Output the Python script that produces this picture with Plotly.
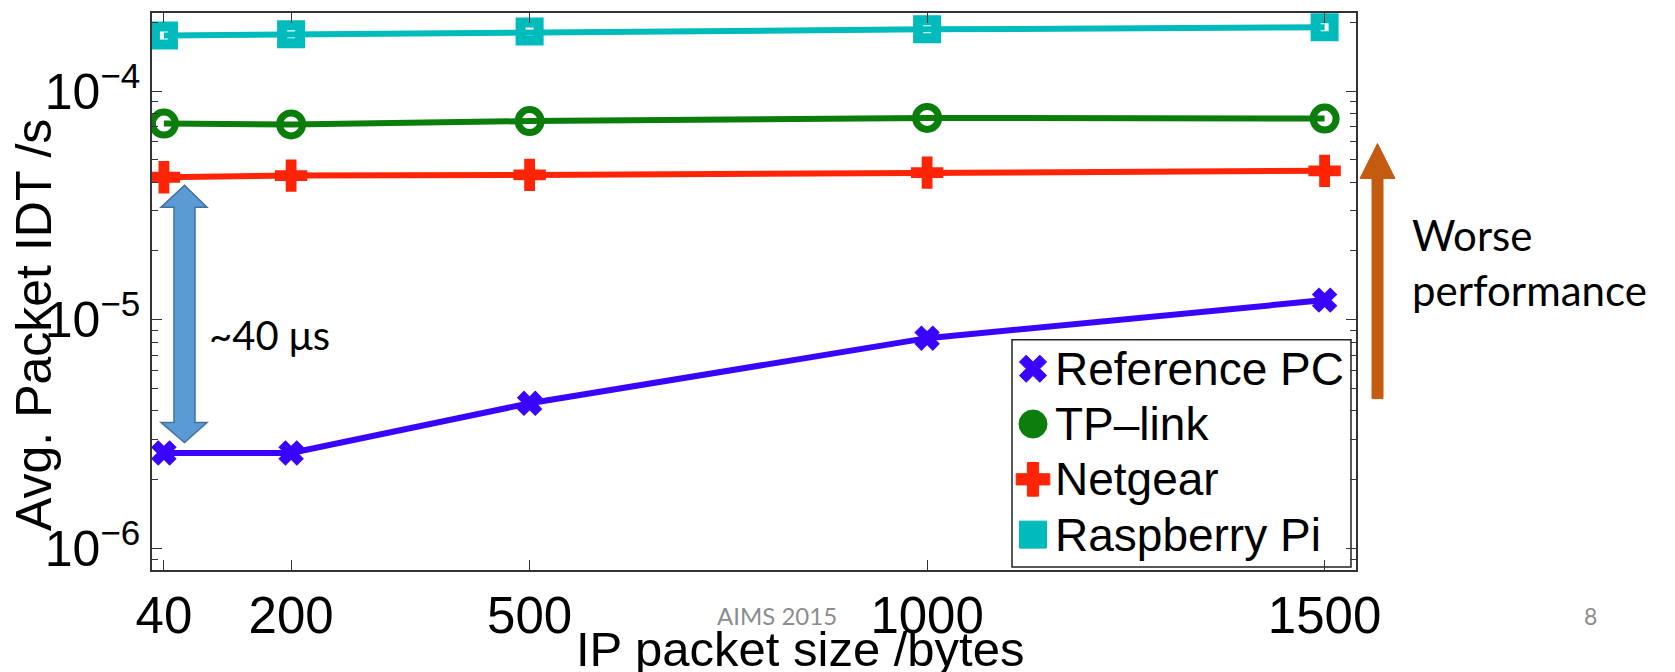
import plotly.graph_objects as go

# ---------------- data ----------------
packet_sizes = [40, 200, 500, 1000, 1500]
reference_pc = [2.62e-6, 2.62e-6, 4.32e-6, 8.32e-6, 1.22e-5]
tp_link = [7.21e-5, 7.15e-5, 7.39e-5, 7.63e-5, 7.58e-5]
netgear = [4.20e-5, 4.27e-5, 4.30e-5, 4.40e-5, 4.48e-5]
raspberry_pi = [1.75e-4, 1.77e-4, 1.82e-4, 1.86e-4, 1.90e-4]

series_names = ["Reference PC", "TP\u2013link", "Netgear", "Raspberry Pi"]
x_tick_vals = [40, 200, 500, 1000, 1500]
y_tick_vals = [1e-6, 1e-5, 1e-4]
y_tick_text = ["10<sup>\u22126</sup>", "10<sup>\u22125</sup>", "10<sup>\u22124</sup>"]

# ---------------- layout geometry (pixels) ----------------
W, H = 1675, 672
ML, MR, MT, MB = 152, 319, 11, 102
PW, PH = W - ML - MR, H - MT - MB
FONT = "Liberation Sans, Arial, Helvetica, sans-serif"
SLIDE_FONT = "Lato, Open Sans, sans-serif"


def px(x):
    return (x - ML) / PW


def py(y):
    return (H - MB - y) / PH


fig = go.Figure()

styles = [
    dict(color="#3A05FF", symbol="x", size=20, lw=2, leg="x", legsize=24),
    dict(color="#0A7D0A", symbol="circle-open", size=23, lw=7, leg="circle", legsize=28),
    dict(color="#FF2405", symbol="cross", size=27, lw=0, leg="cross", legsize=28),
    dict(color="#00BBBB", symbol="square-open", size=18, lw=10, leg="square", legsize=27),
]
data_series = [reference_pc, tp_link, netgear, raspberry_pi]

for name, ys, st in zip(series_names, data_series, styles):
    fig.add_trace(go.Scatter(
        x=packet_sizes, y=ys, mode="lines+markers", name=name, showlegend=False,
        line=dict(color=st["color"], width=6),
        marker=dict(symbol=st["symbol"], size=st["size"], color=st["color"],
                    line=dict(color=st["color"], width=st["lw"])),
    ))

# ---------------- hand-built legend (MATLAB style) ----------------
LEG_X0, LEG_Y0, LEG_X1, LEG_Y1 = 1012, 339, 1351, 567
LEG_SYM_X, LEG_TXT_X = 1033, 1053
LEG_ROW0, LEG_ROW_GAP = 368, 55.5
rows = [LEG_ROW0 + i * LEG_ROW_GAP for i in range(len(series_names))]

fig.add_shape(type="rect", xref="paper", yref="paper",
              x0=px(LEG_X0), x1=px(LEG_X1), y0=py(LEG_Y1), y1=py(LEG_Y0),
              fillcolor="white", line=dict(color="#222", width=1.5), layer="below")

for name, st, ry in zip(series_names, styles, rows):
    fig.add_trace(go.Scatter(
        x=[LEG_SYM_X], y=[ry], xaxis="x2", yaxis="y2", mode="markers",
        showlegend=False, hoverinfo="skip",
        marker=dict(symbol=st["leg"], size=st["legsize"], color=st["color"],
                    line=dict(color=st["color"], width=1)),
    ))
    fig.add_annotation(text=name, xref="paper", yref="paper", x=px(LEG_TXT_X), y=py(ry),
                       xanchor="left", yanchor="middle", showarrow=False,
                       font=dict(size=46, family=FONT, color="black"))

minor_vals = [k * 10.0 ** e for e in (-7, -6, -5, -4) for k in range(2, 10)]

fig.update_layout(
    width=W, height=H,
    margin=dict(l=ML, r=MR, t=MT, b=MB, pad=0),
    paper_bgcolor="white", plot_bgcolor="white",
    font=dict(family=FONT, color="black"),
    showlegend=False,
    xaxis=dict(
        range=[25, 1539.5], tickvals=x_tick_vals, ticks="inside", ticklen=10,
        tickwidth=1.2, tickcolor="#333", showline=True, linecolor="#333", linewidth=1.5,
        mirror="ticks", showgrid=False, zeroline=False,
        tickfont=dict(size=51, family=FONT),
    ),
    yaxis=dict(
        type="log", range=[-6.093, -3.659], tickvals=y_tick_vals, ticktext=y_tick_text,
        ticks="inside", ticklen=10, tickwidth=1.2, tickcolor="#333",
        showline=True, linecolor="#333", linewidth=1.5, mirror="ticks",
        showgrid=False, zeroline=False,
        tickfont=dict(size=50, family=FONT),
        minor=dict(tickvals=minor_vals, ticks="inside", ticklen=6, tickwidth=1.2,
                   tickcolor="#333", showgrid=False),
    ),
    # pixel-space overlay axes used only to place the legend symbols
    xaxis2=dict(overlaying="x", range=[ML, W - MR], visible=False, anchor="y2"),
    yaxis2=dict(overlaying="y", range=[H - MB, MT], visible=False, anchor="x2"),
)

# axis titles as annotations (overlapping tick labels like the original)
fig.add_annotation(text="Avg. Packet IDT /s", xref="paper", yref="paper",
                   x=px(34), y=py(324), textangle=-90, showarrow=False,
                   xanchor="center", yanchor="middle",
                   font=dict(size=50, family=FONT, color="black"))
fig.add_annotation(text="IP packet size /bytes", xref="paper", yref="paper",
                   x=px(800), y=py(649), showarrow=False, xanchor="center", yanchor="middle",
                   font=dict(size=49, family=FONT, color="black"))

# slide decorations
fig.add_annotation(text="AIMS 2015", xref="paper", yref="paper", x=px(777), y=py(616),
                   showarrow=False, xanchor="center", yanchor="middle",
                   font=dict(size=24, family=SLIDE_FONT, color="#8C8C8C"))
fig.add_annotation(text="8", xref="paper", yref="paper", x=px(1590), y=py(616),
                   showarrow=False, xanchor="center", yanchor="middle",
                   font=dict(size=23, family=SLIDE_FONT, color="#8C8C8C"))
fig.add_annotation(text="Worse<br>performance", xref="paper", yref="paper",
                   x=px(1410), y=py(261), showarrow=False, xanchor="left", yanchor="middle",
                   align="left",
                   font=dict(size=42, family=SLIDE_FONT, color="black"))
fig.add_annotation(text="~40 \u03bcs", xref="paper", yref="paper",
                   x=px(207), y=py(334), showarrow=False, xanchor="left", yanchor="middle",
                   font=dict(size=40, family=SLIDE_FONT, color="black"))


def poly(points):
    return "M " + " L ".join(f"{px(a):.5f},{py(b):.5f}" for a, b in points) + " Z"


# brown up arrow
brown = [(1372, 398), (1372, 177), (1360, 177), (1377.5, 142), (1395, 177),
         (1383, 177), (1383, 398)]
fig.add_shape(type="path", path=poly(brown), xref="paper", yref="paper",
              fillcolor="#C55A11", line=dict(color="#C55A11", width=1))

# blue double arrow
blue = [(184.5, 184), (207, 206), (195, 206), (195, 422), (207, 422), (184.5, 442),
        (161, 422), (174, 422), (174, 206), (161, 206)]
fig.add_shape(type="path", path=poly(blue), xref="paper", yref="paper",
              fillcolor="#5B9BD5", line=dict(color="#41719C", width=1.5))

fig.write_html("out.html")
